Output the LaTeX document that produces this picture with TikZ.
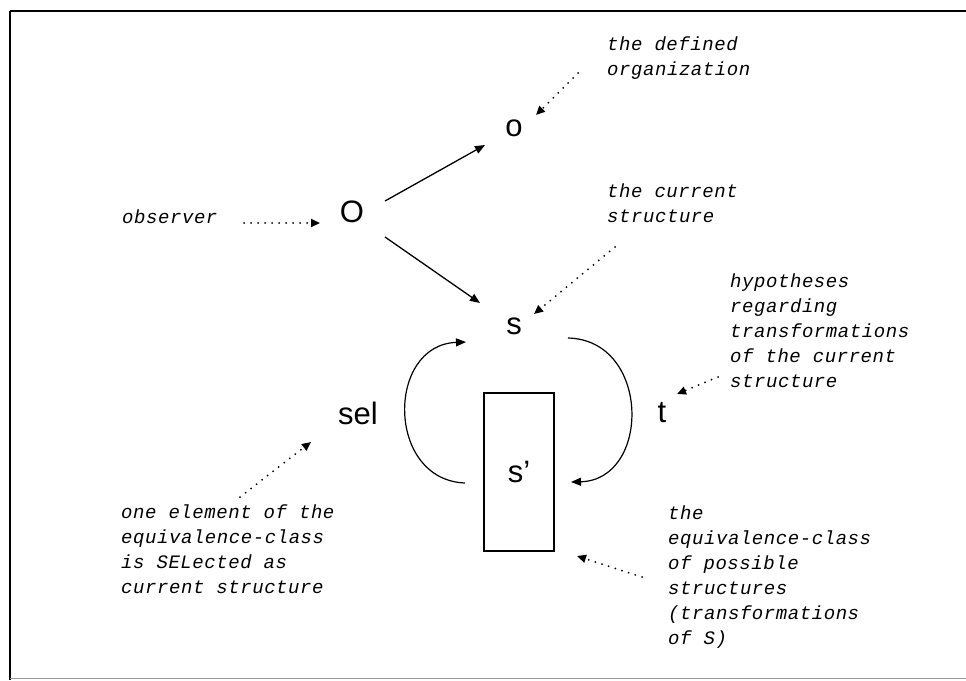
\documentclass[tikz,border=0pt]{standalone}
\usepackage{fontspec}
\setmainfont{Liberation Sans}
\newfontfamily\notefont[LetterSpace=3]{Liberation Mono}
\usetikzlibrary{arrows.meta}
\begin{document}
\begin{tikzpicture}[x=1pt,y=-1pt,
  lab/.style={font=\fontsize{31}{31}\selectfont, inner sep=0pt},
  note/.style={font=\notefont\itshape\fontsize{19}{25}\selectfont, align=left, inner sep=0pt, anchor=north west},
  solidarr/.style={line width=1.3pt, -{Triangle[length=10pt,width=8pt]}},
  arcarr/.style={line width=1.2pt, -{Triangle[length=10pt,width=8pt]}},
  dotarr/.style={line width=2pt, line cap=round, dash pattern=on 0pt off 7pt, -{Triangle[length=9pt,width=8pt]}},
  frame/.style={line width=2pt}
]
\useasboundingbox (0,0) rectangle (966,680);
% frame
\draw[frame] (10,11) -- (966,11);
\draw[frame] (10,11) -- (10,680);
\draw[line width=0.6pt, black!40] (10,678) -- (966,678);

% main labels
\node[lab] (O) at (352,212) {O};
\node[lab] (o) at (514,128) {o};
\node[lab] (s) at (514,326) {s};
\node[lab] (sel) at (358,413) {sel};
\node[lab] (t) at (662,413) {t};
\node[draw, line width=1.2pt, minimum width=70pt, minimum height=158pt, inner sep=0pt,
      font=\fontsize{31}{31}\selectfont] (sp) at (519,472) {s'};

% notes
\node[note] (nobs) at (122,210) {observer};
\node[note] (ndef) at (607,37) {the defined\\organization};
\node[note] (ncur) at (607,184) {the current\\structure};
\node[note] (nhyp) at (730,274) {hypotheses\\regarding\\transformations\\of the current\\structure};
\node[note] (nsel) at (121,505) {one element of the\\equivalence-class\\is SELected as\\current structure};
\node[note] (neq) at (668,506) {the\\equivalence-class\\of possible\\structures\\(transformations\\of S)};

% solid arrows
\coordinate (Oa) at (385,201);
\coordinate (oa) at (485,145);
\coordinate (Ob) at (385,237);
\coordinate (sb) at (480,303);
\draw[solidarr] (Oa) -- (oa);
\draw[solidarr] (Ob) -- (sb);

% arcs
\coordinate (selS) at (465,483);
\coordinate (selE) at (466,342);
\coordinate (tS) at (568,338);
\coordinate (tE) at (571,482);
\draw[arcarr] (selS) .. controls (386,480) and (386,345) .. (selE);
\draw[arcarr] (tS) .. controls (651,340) and (651,480) .. (tE);

% dotted arrows
\coordinate (d1s) at (244,223);
\coordinate (d1e) at (320,223);
\coordinate (d2s) at (578,73);
\coordinate (d2e) at (536,115);
\coordinate (d3s) at (615,247);
\coordinate (d3e) at (534,314);
\coordinate (d4s) at (718,377);
\coordinate (d4e) at (677,394);
\coordinate (d5s) at (240,497);
\coordinate (d5e) at (311,442);
\coordinate (d6s) at (642,577);
\coordinate (d6e) at (577,556);
\draw[dotarr] (d1s) -- (d1e);
\draw[dotarr] (d2s) -- (d2e);
\draw[dotarr] (d3s) -- (d3e);
\draw[dotarr] (d4s) -- (d4e);
\draw[dotarr] (d5s) -- (d5e);
\draw[dotarr] (d6s) -- (d6e);
\end{tikzpicture}
\end{document}
